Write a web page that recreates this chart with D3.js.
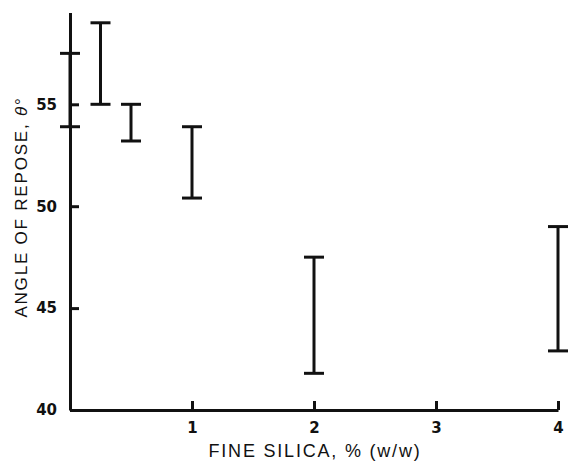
<!DOCTYPE html>
<html>
<head>
<meta charset="utf-8">
<title>Angle of repose vs fine silica</title>
<style>
  body { margin: 0; background: #fff; }
  svg { display: block; }
  .axis text { font-family: "DejaVu Sans", sans-serif; font-size: 15px; font-weight: bold; fill: #111; }
  .axis path, .axis line { stroke: #111; stroke-width: 3px; }
  .bar { stroke: #111; stroke-width: 3px; fill: none; }
  .title { font-family: "Liberation Sans", Arial, sans-serif; fill: #111; }
</style>
</head>
<body>
<svg width="572" height="461"></svg>
<script src="https://cdnjs.cloudflare.com/ajax/libs/d3/7.8.5/d3.min.js"></script>
<script>
// fine silica content (% w/w)
var silica = [0, 0.25, 0.5, 1, 2, 4];
// angle of repose range (degrees)
var lowAngle  = [53.9, 55.0, 53.2, 50.4, 41.8, 42.9];
var highAngle = [57.5, 59.0, 55.0, 53.9, 47.5, 49.0];

var xTicks = [1, 2, 3, 4];
var yTicks = [40, 45, 50, 55];

var svg = d3.select("svg");

var x = d3.scaleLinear().domain([0, 4]).range([70, 558]);
var y = d3.scaleLinear().domain([40, 59.5]).range([410, 12.6]);

svg.append("g")
    .attr("class", "axis")
    .attr("transform", "translate(0,410)")
    .call(d3.axisBottom(x).tickValues(xTicks).tickSizeInner(-9).tickSizeOuter(0).tickPadding(12).tickFormat(d3.format("d")));

svg.append("g")
    .attr("class", "axis")
    .attr("transform", "translate(70,0)")
    .call(d3.axisLeft(y).tickValues(yTicks).tickSizeInner(-9).tickSizeOuter(0).tickPadding(13).tickFormat(d3.format("d")));

var bars = svg.selectAll(".err")
    .data(silica)
  .enter().append("g")
    .attr("class", "err");

bars.append("line")
    .attr("class", "bar")
    .attr("x1", function(d) { return x(d); })
    .attr("x2", function(d) { return x(d); })
    .attr("y1", function(d, i) { return y(lowAngle[i]); })
    .attr("y2", function(d, i) { return y(highAngle[i]); });

bars.append("line")
    .attr("class", "bar")
    .attr("x1", function(d) { return x(d) - 10; })
    .attr("x2", function(d) { return x(d) + 10; })
    .attr("y1", function(d, i) { return y(lowAngle[i]); })
    .attr("y2", function(d, i) { return y(lowAngle[i]); });

bars.append("line")
    .attr("class", "bar")
    .attr("x1", function(d) { return x(d) - 10; })
    .attr("x2", function(d) { return x(d) + 10; })
    .attr("y1", function(d, i) { return y(highAngle[i]); })
    .attr("y2", function(d, i) { return y(highAngle[i]); });

svg.append("text")
    .attr("class", "title")
    .attr("x", x(2) + 1)
    .attr("y", 457)
    .attr("text-anchor", "middle")
    .style("font-size", "18px")
    .style("letter-spacing", "1.8px")
    .text("FINE SILICA, % (w/w)");

var ytitle = svg.append("text")
    .attr("class", "title")
    .attr("transform", "translate(27,207) rotate(-90)")
    .attr("text-anchor", "middle")
    .style("font-size", "17px")
    .style("letter-spacing", "1.8px");
ytitle.append("tspan").text("ANGLE OF REPOSE, ");
ytitle.append("tspan").style("font-style", "italic").text("θ");
ytitle.append("tspan").text("°");
</script>
</body>
</html>
